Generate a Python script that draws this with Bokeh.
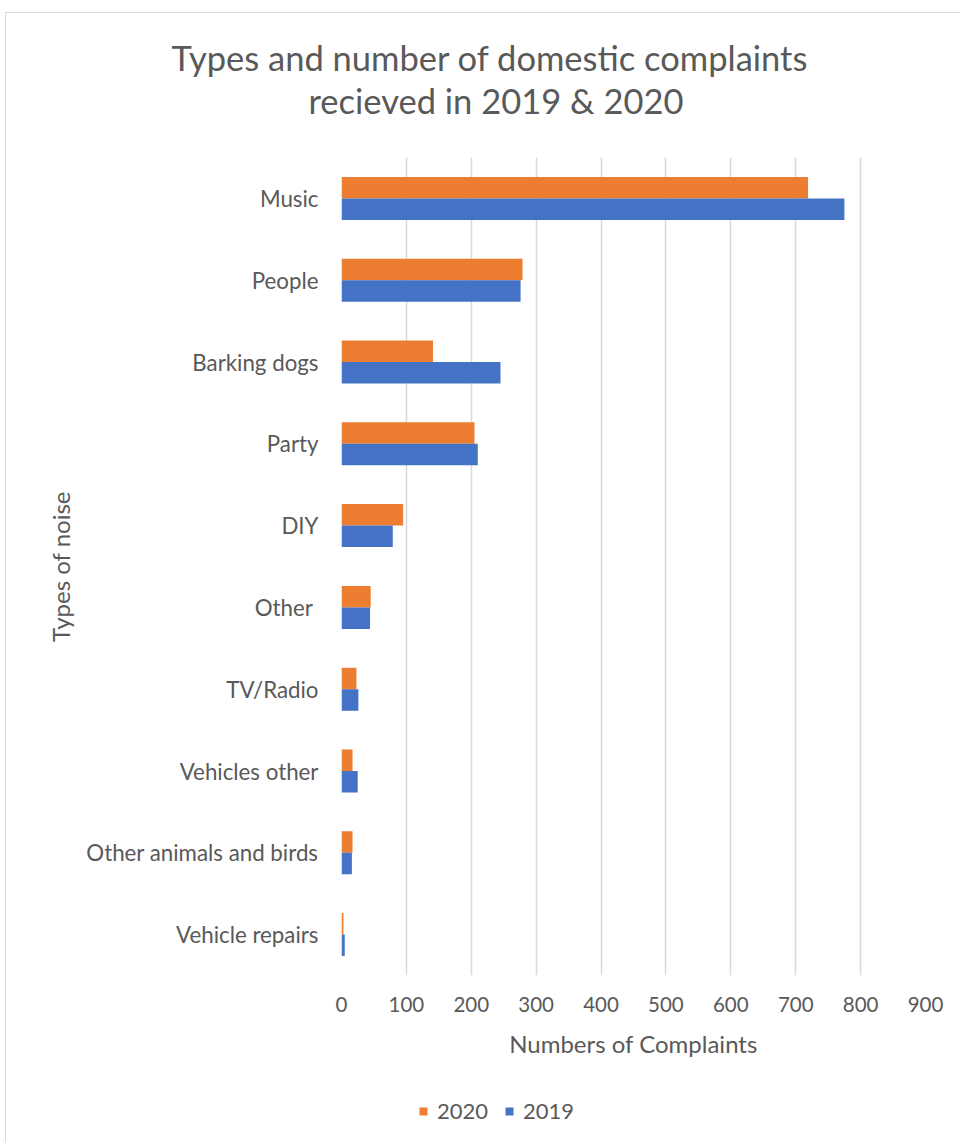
from bokeh.plotting import figure
from bokeh.layouts import column
from bokeh.models import ColumnDataSource, FactorRange, Range1d, Title, Legend, LegendItem
from bokeh.transform import dodge
from bokeh.embed import file_html
from bokeh.resources import INLINE

categories = ["Music", "People", "Barking dogs", "Party", "DIY", "Other ",
              "TV/Radio", "Vehicles other", "Other animals and birds", "Vehicle repairs"]
v2020 = [719, 279, 141, 205, 95, 45, 23, 17, 17, 3]
v2019 = [775, 276, 245, 210, 79, 44, 26, 25, 16, 5]
x_ticks = [0, 100, 200, 300, 400, 500, 600, 700, 800, 900]
series_labels = ["2020", "2019"]
series_fields = ["v2020", "v2019"]
series_colors = ["#ED7D31", "#4472C4"]
series_dodge = [0.1315, -0.1315]

FONT = "Lato"
TXT = "#595959"
BORDER = "1px solid #D9D9D9"

src = ColumnDataSource(dict(cat=categories, v2020=v2020, v2019=v2019))
yr = FactorRange(*reversed(categories))

p = figure(frame_width=583, frame_height=817, margin=(12, 0, 0, 5),
           y_range=yr, x_range=Range1d(0, 900),
           output_backend="svg", toolbar_location=None,
           min_border_left=335, min_border_right=37, min_border_top=144, min_border_bottom=112)
p.styles = {"border-top": BORDER, "border-left": BORDER}

p.title.text = "Types and number of domestic complaints"
p.title.align = "left"
p.title.offset = -170
p.title.text_font = FONT
p.title.text_font_size = "34.5px"
p.title.text_font_style = "normal"
p.title.text_color = TXT
p.title.standoff = 0
t2 = Title(text="recieved in 2019 & 2020", align="left", offset=-33, text_font=FONT,
           text_font_size="34.5px", text_font_style="normal", text_color=TXT, standoff=0)
spacer = Title(text=" ", text_font_size="1px", standoff=34)
p.add_layout(spacer, "above")
p.add_layout(t2, "above")

for fld, col, dd in zip(series_fields, series_colors, series_dodge):
    p.hbar(y=dodge("cat", dd, range=yr), left=0, right=fld, height=0.263,
           source=src, fill_color=col, line_color=None)

p.xaxis.ticker = x_ticks
p.xgrid.ticker = x_ticks
p.xgrid.grid_line_color = "#D9D9D9"
p.xgrid.grid_line_width = 1.5
p.ygrid.grid_line_color = None
p.outline_line_color = None

for ax in (p.xaxis[0], p.yaxis[0]):
    ax.axis_line_color = None
    ax.major_tick_line_color = None
    ax.minor_tick_line_color = None
    ax.major_label_text_font = FONT
    ax.major_label_text_color = TXT
    ax.axis_label_text_font = FONT
    ax.axis_label_text_font_size = "24px"
    ax.axis_label_text_font_style = "normal"
    ax.axis_label_text_color = TXT

p.xaxis.major_label_text_font_size = "20.5px"
p.yaxis.major_label_text_font_size = "22.3px"
p.xaxis.axis_label = "Numbers of Complaints"
p.yaxis.axis_label = "Types of noise"
p.xaxis.major_label_standoff = 15
p.yaxis.major_label_standoff = 17
p.xaxis.axis_label_standoff = 14
p.yaxis.axis_label_standoff = 8

# legend strip below the chart (zero-height series proxies, outside its x range)
pl = figure(width=955, height=57, margin=(0, 0, 0, 5), title=None,
            y_range=yr, x_range=Range1d(-2, -1),
            x_axis_location=None, y_axis_location=None,
            output_backend="svg", toolbar_location=None, min_border=0)
pl.styles = {"border-left": BORDER}
pl.grid.visible = False
pl.outline_line_color = None
items = []
for lab, fld, col, dd in zip(series_labels, series_fields, series_colors, series_dodge):
    r = pl.hbar(y=dodge("cat", dd, range=yr), left=0, right=fld, height=0,
                source=src, fill_color=col, line_color=None)
    items.append(LegendItem(label=lab, renderers=[r]))
legend = Legend(items=items, orientation="horizontal", location=(77, 19),
                border_line_color=None, background_fill_alpha=0,
                label_text_font=FONT, label_text_font_size="22px", label_text_color=TXT,
                glyph_width=10, glyph_height=10, spacing=16, label_standoff=9,
                padding=0, margin=0)
pl.add_layout(legend, "center")

layout = column(p, pl, spacing=0)
open("out.html", "w").write(file_html(layout, INLINE))
